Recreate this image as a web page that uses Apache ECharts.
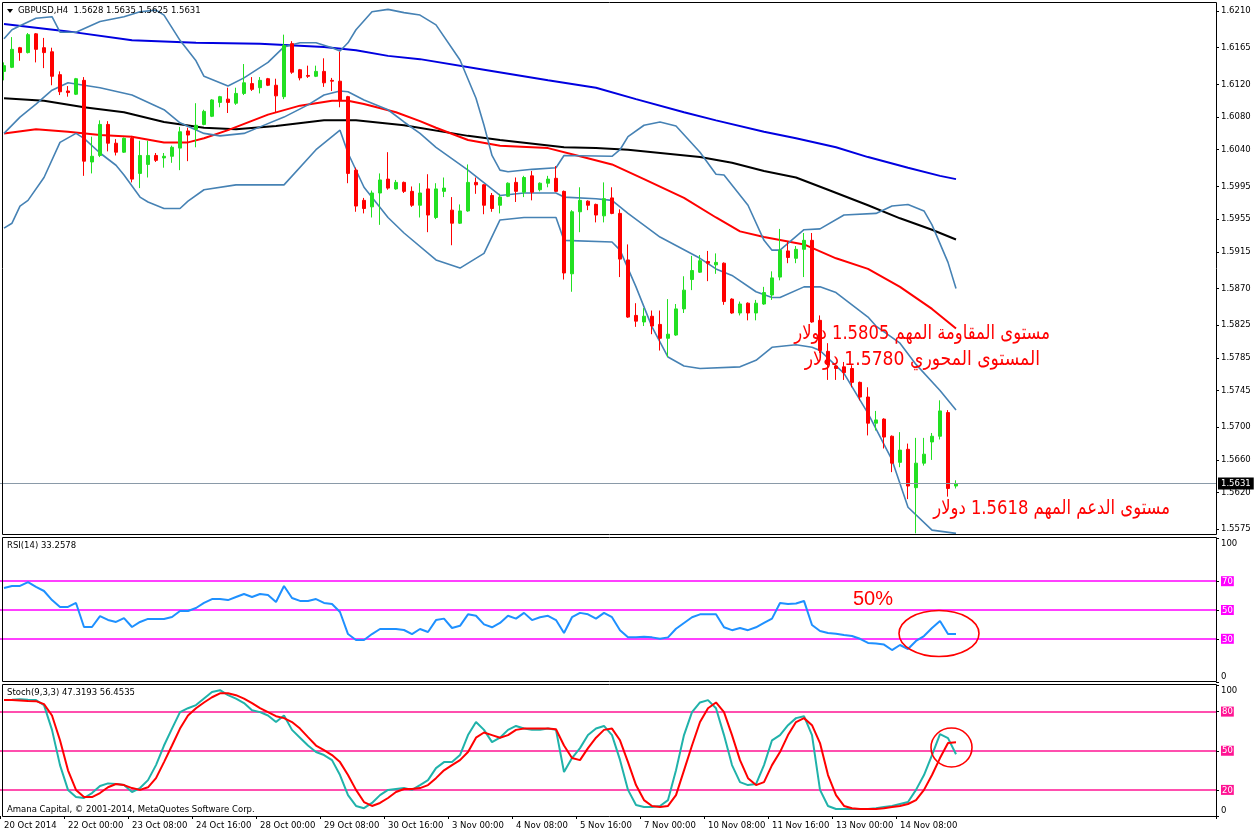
<!DOCTYPE html>
<html><head><meta charset="utf-8">
<script src="https://cdn.jsdelivr.net/npm/echarts@6/dist/echarts.min.js"></script>
<style>html,body{margin:0;padding:0;background:#fff}#c{width:1258px;height:835px}</style>
</head><body><div id="c"></div>
<script>
// ---------------- DATA ----------------
const symbolTitle = 'GBPUSD,H4';
const lastQuote = ['1.5628', '1.5635', '1.5625', '1.5631'];
const currentPrice = 1.5631;
const rsiTitle = 'RSI(14) 33.2578';
const stochTitle = 'Stoch(9,3,3) 47.3193 56.4535';
const footerText = 'Amana Capital, \u00A9 2001-2014, MetaQuotes Software Corp.';
const timeTicks = ['20 Oct 2014','22 Oct 00:00','23 Oct 08:00','24 Oct 16:00','28 Oct 00:00','29 Oct 08:00','30 Oct 16:00','3 Nov 00:00','4 Nov 08:00','5 Nov 16:00','7 Nov 00:00','10 Nov 08:00','11 Nov 16:00','13 Nov 00:00','14 Nov 08:00'];
const priceTicks = [1.6210,1.6165,1.6120,1.6080,1.6040,1.5995,1.5955,1.5915,1.5870,1.5825,1.5785,1.5745,1.5700,1.5660,1.5620,1.5575];
const rsiLevels = [70, 50, 30];
const stochLevels = [80, 50, 20];
const annotations = ['\u0645\u0633\u062A\u0648\u0649 \u0627\u0644\u0645\u0642\u0627\u0648\u0645\u0629 \u0627\u0644\u0645\u0647\u0645 1.5805 \u062F\u0648\u0644\u0627\u0631',
  '\u0627\u0644\u0645\u0633\u062A\u0648\u0649 \u0627\u0644\u0645\u062D\u0648\u0631\u064A 1.5780 \u062F\u0648\u0644\u0627\u0631',
  '\u0645\u0633\u062A\u0648\u0649 \u0627\u0644\u062F\u0639\u0645 \u0627\u0644\u0645\u0647\u0645 1.5618 \u062F\u0648\u0644\u0627\u0631',
  '50%'];

const opens = [1.6136,1.6141,1.6165,1.6159,1.6182,1.6165,1.6160,1.6132,1.6112,1.6108,
1.6125,1.6025,1.6033,1.6071,1.6048,1.6037,1.6054,1.6011,1.6022,1.6033,
1.6030,1.6032,1.6042,1.6063,1.6065,1.6071,1.6081,1.6098,1.6102,1.6097,
1.6109,1.6121,1.6116,1.6127,1.6119,1.6105,1.6170,1.6138,1.6131,1.6130,
1.6136,1.6125,1.6124,1.6105,1.6015,1.5978,1.5970,1.5987,1.6004,1.5992,
1.6000,1.5989,1.5972,1.5992,1.5957,1.5989,1.5966,1.5950,1.5965,1.6000,
1.5997,1.5984,1.5972,1.5983,1.6000,1.5988,1.6008,1.5991,1.5999,1.6005,
1.5989,1.5888,1.5964,1.5977,1.5973,1.5959,1.5981,1.5962,1.5905,1.5837,
1.5829,1.5836,1.5826,1.5809,1.5813,1.5845,1.5881,1.5890,1.5903,1.5899,
1.5901,1.5857,1.5840,1.5852,1.5840,1.5851,1.5862,1.5884,1.5916,1.5907,
1.5918,1.5929,1.5831,1.5793,1.5775,1.5774,1.5772,1.5755,1.5737,1.5705,
1.5710,1.5689,1.5657,1.5673,1.5626,1.5656,1.5682,1.5689,1.5718,1.5628];
const highs = [1.6147,1.6178,1.6166,1.6183,1.6183,1.6177,1.6165,1.6136,1.6118,1.6128,
1.6129,1.6056,1.6076,1.6075,1.6053,1.6055,1.6057,1.6051,1.6051,1.6036,
1.6036,1.6045,1.6068,1.6067,1.6097,1.6089,1.6102,1.6106,1.6116,1.6116,
1.6145,1.6129,1.6129,1.6128,1.6127,1.6181,1.6173,1.6139,1.6143,1.6143,
1.6152,1.6128,1.6160,1.6106,1.6018,1.5981,1.5990,1.6011,1.6037,1.6003,
1.6001,1.5995,1.5999,1.6010,1.5999,1.6006,1.5982,1.5973,1.6022,1.6006,
1.5998,1.5987,1.5986,1.6000,1.6006,1.6008,1.6014,1.6000,1.6008,1.6020,
1.5990,1.5966,1.5994,1.5978,1.5974,1.6000,1.5994,1.5967,1.5924,1.5852,
1.5846,1.5843,1.5843,1.5857,1.5851,1.5885,1.5910,1.5911,1.5916,1.5913,
1.5902,1.5858,1.5854,1.5853,1.5856,1.5872,1.5891,1.5943,1.5927,1.5922,
1.5938,1.5938,1.5837,1.5803,1.5776,1.5780,1.5776,1.5756,1.5749,1.5720,
1.5711,1.5690,1.5694,1.5680,1.5687,1.5687,1.5693,1.5733,1.5721,1.5635];
const lows = [1.6125,1.6140,1.6149,1.6158,1.6147,1.6140,1.6119,1.6107,1.6105,1.6107,
1.6008,1.6011,1.6031,1.6038,1.6033,1.6036,1.6000,1.5993,1.6006,1.6025,
1.6018,1.6024,1.6015,1.6026,1.6043,1.6070,1.6080,1.6092,1.6085,1.6095,
1.6107,1.6112,1.6109,1.6118,1.6086,1.6102,1.6133,1.6125,1.6128,1.6129,
1.6117,1.6112,1.6092,1.5999,1.5964,1.5962,1.5957,1.5948,1.5991,1.5991,
1.5987,1.5970,1.5957,1.5939,1.5955,1.5982,1.5923,1.5949,1.5964,1.5986,
1.5961,1.5964,1.5962,1.5982,1.5976,1.5982,1.5978,1.5989,1.5994,1.5988,
1.5881,1.5866,1.5939,1.5966,1.5951,1.5951,1.5961,1.5884,1.5834,1.5823,
1.5824,1.5814,1.5794,1.5786,1.5812,1.5840,1.5868,1.5889,1.5879,1.5888,
1.5850,1.5839,1.5837,1.5831,1.5831,1.5850,1.5856,1.5880,1.5901,1.5901,
1.5884,1.5828,1.5791,1.5758,1.5758,1.5758,1.5749,1.5733,1.5690,1.5696,
1.5674,1.5645,1.5651,1.5612,1.5570,1.5653,1.5660,1.5685,1.5615,1.5625];
const closes = [1.6143,1.6163,1.6159,1.6181,1.6163,1.6159,1.6130,1.6111,1.6110,1.6127,
1.6026,1.6032,1.6071,1.6048,1.6037,1.6054,1.6004,1.6033,1.6033,1.6027,
1.6032,1.6043,1.6062,1.6058,1.6070,1.6087,1.6101,1.6105,1.6098,1.6109,
1.6122,1.6114,1.6125,1.6119,1.6106,1.6168,1.6135,1.6128,1.6130,1.6136,
1.6122,1.6124,1.6101,1.6011,1.5971,1.5968,1.5987,1.6003,1.5993,1.6000,
1.5989,1.5972,1.5987,1.5960,1.5992,1.5993,1.5950,1.5965,1.6000,1.5997,
1.5972,1.5968,1.5982,1.5999,1.5989,1.6006,1.5988,1.5999,1.6004,1.5989,
1.5889,1.5964,1.5978,1.5972,1.5960,1.5980,1.5962,1.5906,1.5835,1.5830,
1.5836,1.5824,1.5809,1.5814,1.5845,1.5868,1.5892,1.5904,1.5901,1.5902,
1.5854,1.5840,1.5851,1.5840,1.5852,1.5865,1.5883,1.5917,1.5908,1.5918,
1.5929,1.5829,1.5794,1.5777,1.5772,1.5767,1.5755,1.5737,1.5705,1.5709,
1.5688,1.5656,1.5672,1.5628,1.5656,1.5667,1.5689,1.5720,1.5625,1.5631];

// moving averages / bands: [bar index, price] read at sampled bars
const maBlue = [[0,1.6194],[8,1.6185],[16,1.6174],[24,1.6171],[32,1.6170],[40,1.6166],[44,1.6162],[48,1.6155],[52,1.6151],[60,1.6138],[68,1.6125],[74,1.6116],[79,1.6102],[85,1.6086],[89,1.6076],[95,1.6062],[99,1.6054],[104,1.6043],[108,1.6031],[113,1.6018],[117,1.6008],[119,1.6004]];
const maBlack = [[0,1.6103],[5,1.6100],[10,1.6092],[15,1.6086],[20,1.6074],[25,1.6067],[29,1.6065],[34,1.6069],[40,1.6076],[44,1.6076],[50,1.6070],[58,1.6057],[62,1.6052],[70,1.6043],[74,1.6042],[78,1.6040],[87,1.6031],[91,1.6024],[95,1.6014],[99,1.6006],[103,1.5991],[108,1.5972],[112,1.5956],[116,1.5942],[119,1.5930]];
const maRed = [[0,1.6060],[4,1.6065],[8,1.6062],[12,1.6058],[16,1.6056],[20,1.6049],[23,1.6049],[25,1.6054],[28,1.6064],[33,1.6083],[37,1.6094],[41,1.6100],[43,1.6100],[45,1.6096],[49,1.6086],[52,1.6075],[54,1.6067],[58,1.6052],[62,1.6045],[68,1.6042],[72,1.6032],[76,1.6022],[80,1.6004],[85,1.5981],[89,1.5957],[92,1.5940],[95,1.5933],[100,1.5924],[104,1.5907],[108,1.5894],[112,1.5872],[116,1.5845],[119,1.5821]];
const bbUpper = [[0,1.6176],[1,1.6187],[2,1.6192],[4,1.6201],[6,1.6203],[7,1.6184],[9,1.6184],[12,1.6197],[15,1.6203],[17,1.6209],[19,1.6211],[20,1.6205],[22,1.6174],[24,1.6149],[25,1.6130],[28,1.6118],[30,1.6128],[33,1.6147],[35,1.6166],[37,1.6171],[39,1.6171],[41,1.6165],[42,1.6161],[43,1.6171],[44,1.6187],[46,1.6209],[48,1.6212],[50,1.6208],[52,1.6205],[54,1.6193],[57,1.6150],[59,1.6103],[60,1.6070],[61,1.6033],[62,1.6015],[63,1.6013],[66,1.6016],[69,1.6018],[70,1.6033],[76,1.6032],[77,1.6040],[78,1.6056],[80,1.6070],[82,1.6074],[84,1.6069],[87,1.6037],[89,1.6010],[90,1.6009],[93,1.5972],[95,1.5929],[96,1.5917],[97,1.5917],[100,1.5942],[102,1.5943],[105,1.5960],[109,1.5962],[111,1.5971],[113,1.5973],[115,1.5965],[116,1.5948],[118,1.5902],[119,1.5870]];
const bbMiddle = [[0,1.6060],[2,1.6080],[4,1.6096],[6,1.6113],[8,1.6122],[10,1.6119],[12,1.6116],[16,1.6107],[20,1.6089],[22,1.6073],[25,1.6060],[27,1.6057],[30,1.6060],[32,1.6068],[35,1.6080],[38,1.6095],[40,1.6107],[42,1.6112],[43,1.6111],[45,1.6101],[48,1.6089],[50,1.6074],[52,1.6060],[54,1.6043],[58,1.6015],[62,1.5984],[65,1.5987],[69,1.5987],[70,1.5982],[74,1.5980],[76,1.5978],[78,1.5962],[82,1.5933],[87,1.5907],[89,1.5894],[91,1.5886],[94,1.5866],[96,1.5859],[97,1.5859],[100,1.5872],[102,1.5872],[104,1.5865],[108,1.5835],[109,1.5824],[112,1.5803],[114,1.5777],[117,1.5745],[119,1.5721]];
const bbLower = [[0,1.5944],[1,1.5950],[2,1.5971],[3,1.5978],[5,1.6006],[7,1.6049],[9,1.6060],[10,1.6054],[12,1.6036],[14,1.6021],[15,1.6009],[17,1.5982],[18,1.5976],[20,1.5968],[22,1.5968],[23,1.5977],[25,1.5991],[29,1.5997],[35,1.5997],[39,1.6040],[42,1.6064],[43,1.6036],[45,1.5994],[48,1.5957],[50,1.5938],[54,1.5905],[57,1.5895],[60,1.5913],[62,1.5954],[65,1.5957],[69,1.5957],[70,1.5929],[76,1.5927],[77,1.5917],[79,1.5872],[81,1.5823],[83,1.5786],[85,1.5775],[87,1.5772],[92,1.5774],[94,1.5782],[96,1.5798],[99,1.5801],[101,1.5798],[102,1.5794],[105,1.5766],[108,1.5717],[111,1.5660],[113,1.5602],[116,1.5574],[119,1.5570]];

const rsiValues = [65.3,66.7,66.7,69.4,66.0,63.2,56.9,52.1,52.1,54.9,
38.2,38.2,45.8,43.1,41.7,44.4,38.2,41.7,43.8,43.8,
43.8,45.1,49.3,49.3,51.4,54.9,57.6,57.6,56.9,59.0,
61.1,59.0,61.1,60.4,55.6,66.7,58.3,56.3,56.3,57.6,
54.9,54.2,48.6,33.3,29.2,29.2,33.3,36.8,36.8,36.8,
36.1,33.3,36.8,34.7,43.0,44.0,37.5,39.0,47.0,46.0,
40.0,38.0,41.0,46.0,44.0,48.0,43.0,45.0,46.0,43.0,
34.0,45.0,48.0,47.0,44.0,48.0,45.0,36.0,31.0,31.0,
31.5,31.0,30.0,31.0,37.0,41.0,45.0,47.0,47.0,47.0,
38.0,36.0,37.5,36.0,38.0,41.0,44.0,54.9,54.2,54.5,
56.3,39.6,35.4,34.0,33.5,32.6,31.9,30.0,27.1,26.7,
26.0,22.2,25.7,22.9,28.5,31.9,37.5,42.4,33.3,33.26];
const stochK = [88.8,89,89.5,89,88.8,85,66,39,20,14.5,
13.8,17.6,23,25,24.5,23.7,18.4,21.4,27.5,39,
54,67,79.6,82.6,85,90,95,96.4,92.6,90,
86.5,81,79.6,77,72,77,66,60,54,49,
46.7,42.8,31.4,16,7.7,6,10,16,20,20.7,
21.4,20,23.7,27.5,36.7,41.3,41.3,46.7,62,72,
66,56.6,60,66,69,67,66,66,67,66,
33.7,44.4,52,62,67,69,62,43,20,8.4,
6.9,6.9,7.7,12.2,35,62,79.6,87,88.8,82.6,
62,39,26,23.7,24.5,39,58,62,69.6,75,
76.5,62,20,7.7,5.4,5.4,5.4,5.4,5.4,6,
6.9,7.7,9.2,10.7,20,31.4,46.7,62.7,59.7,47.32];
const stochD = [88.8,88.8,88.5,88.2,88,85.7,77,58,35,20,
14.5,14.5,17.6,22,24.5,23.7,21.4,20,22,29,
41.3,54,67,77,82.6,87,91,94,94,92.6,
90,86.5,82.6,79.6,76.5,75,72,67,60.4,54,
50.5,46.7,41.3,31.4,20,10.7,7.7,10,13.8,18.4,
20.7,20.7,21.4,23.7,29,35,39,42.8,49,60,
64,62,60,62,66,67,67,67,67,66.5,
54,44.4,42.8,52,60,66,67,58,41.3,23.7,
12.2,7.7,6.9,7.7,16,35,54,72,82.6,87,
79.6,62,42.8,29,23.7,26,39,49,62,72,
75,69.6,55.9,31.4,16,7.7,6,5.4,5.4,5.4,
6,6.9,7.7,9.2,12.2,20,31.4,44.4,55.9,56.45];

// ---------------- BUILD ----------------
const SLOTS = 152; // bars + empty right margin (chart shift)
const MONTHS = ['Jan','Feb','Mar','Apr','May','Jun','Jul','Aug','Sep','Oct','Nov','Dec'];
const categories = [];
{
  let t = Date.UTC(2014, 9, 20, 16);
  while (categories.length < opens.length) {
    const d = new Date(t); const wd = d.getUTCDay();
    if (wd !== 0 && wd !== 6) {
      const p = n => String(n).padStart(2, '0');
      categories.push(d.getUTCDate() + ' ' + MONTHS[d.getUTCMonth()] + ' ' + p(d.getUTCHours()) + ':' + p(d.getUTCMinutes()));
    }
    t += 4 * 3600e3;
  }
  while (categories.length < SLOTS) categories.push('');
}
const candleData = opens.map((o, i) => [o, closes[i], lows[i], highs[i]]);
const FONT = 'DejaVu Sans';
const tickEvery = 8;
const showTick = idx => idx % tickEvery === 0 && idx / tickEvery < timeTicks.length;

const gridL = 0, gridW = SLOTS * 8;
const grids = [
  {left: gridL, top: 2, width: gridW, height: 533},
  {left: gridL, top: 538, width: gridW, height: 144},
  {left: gridL, top: 685.5, width: gridW, height: 130.5}
];
function xAx(gi, show) {
  return {
    type: 'category', gridIndex: gi, data: categories, boundaryGap: true,
    axisLine: {show: false}, splitLine: {show: false},
    axisTick: {show: show, interval: (i) => showTick(i), length: 3, lineStyle: {color: '#000'}},
    axisLabel: {show: show, interval: (i) => showTick(i), formatter: (v, i) => timeTicks[i / tickEvery] || '',
      align: 'left', margin: 5, color: '#000', fontSize: 8.5, fontFamily: FONT}
  };
}
const levelRich = (bg) => ({
  lv: {backgroundColor: bg, color: '#fff', padding: [1, 1, 0, 1], fontSize: 8.5, fontFamily: FONT},
  top: {padding: [11, 0, 0, 0], color: '#000', fontSize: 8.5, fontFamily: FONT},
  bot: {padding: [0, 0, 11, 0], color: '#000', fontSize: 8.5, fontFamily: FONT}
});
function oscY(gi, levels, bg) {
  return {
    type: 'value', gridIndex: gi, position: 'right', min: 0, max: 100,
    axisLine: {show: false}, splitLine: {show: false},
    axisTick: {show: true, length: 3, customValues: [0].concat(levels.slice().reverse(), [100]), lineStyle: {color: '#000'}},
    axisLabel: {show: true, margin: 5, customValues: [0].concat(levels.slice().reverse(), [100]),
      formatter: v => v === 100 ? '{top|100}' : v === 0 ? '{bot|0}' : '{lv|' + v + '}',
      rich: levelRich(bg)}
  };
}
const arabicFont = '20px "DejaVu Sans"';

const option = {
  animation: false,
  backgroundColor: '#fff',
  grid: grids,
  xAxis: [xAx(0, false), xAx(1, false), xAx(2, true)],
  yAxis: [
    {type: 'value', gridIndex: 0, position: 'right', min: 1.5568, max: 1.6221,
      axisLine: {show: false}, splitLine: {show: false},
      axisTick: {show: true, length: 3, customValues: priceTicks, lineStyle: {color: '#000'}},
      axisLabel: {customValues: priceTicks, formatter: v => v.toFixed(4), margin: 5, color: '#000', fontSize: 8.5, fontFamily: FONT}},
    oscY(1, rsiLevels, '#FF00FF'),
    oscY(2, stochLevels, '#FF1493')
  ],
  series: [
    {type: 'line', name: 'MA blue', data: maBlue, xAxisIndex: 0, yAxisIndex: 0, showSymbol: false, lineStyle: {color: '#0000E0', width: 2}, z: 2,
      markLine: {silent: true, symbol: 'none', precision: 4,
        lineStyle: {color: '#8a9aa8', width: 1, type: 'solid'},
        label: {position: 'end', formatter: lastQuote[3], color: '#fff', backgroundColor: '#000', padding: [2, 3, 1, 3], fontSize: 8.5, fontFamily: FONT, distance: 2},
        data: [{yAxis: currentPrice}]}},
    {type: 'line', name: 'MA black', data: maBlack, xAxisIndex: 0, yAxisIndex: 0, showSymbol: false, lineStyle: {color: '#000000', width: 2}, z: 2},
    {type: 'line', name: 'MA red', data: maRed, xAxisIndex: 0, yAxisIndex: 0, showSymbol: false, lineStyle: {color: '#FF0000', width: 2}, z: 2},
    {type: 'line', name: 'BB up', data: bbUpper, xAxisIndex: 0, yAxisIndex: 0, showSymbol: false, lineStyle: {color: '#4682B4', width: 1.6}, z: 2},
    {type: 'line', name: 'BB mid', data: bbMiddle, xAxisIndex: 0, yAxisIndex: 0, showSymbol: false, lineStyle: {color: '#4682B4', width: 1.6}, z: 2},
    {type: 'line', name: 'BB low', data: bbLower, xAxisIndex: 0, yAxisIndex: 0, showSymbol: false, lineStyle: {color: '#4682B4', width: 1.6}, z: 2},
    {type: 'candlestick', data: candleData, xAxisIndex: 0, yAxisIndex: 0, barWidth: 4, z: 3,
      itemStyle: {color: '#22E022', color0: '#FF0000', borderColor: '#22E022', borderColor0: '#FF0000', borderWidth: 1}},
    {type: 'line', data: rsiValues, xAxisIndex: 1, yAxisIndex: 1, showSymbol: false, lineStyle: {color: '#1E90FF', width: 2}, z: 3,
      markLine: {silent: true, symbol: 'none', label: {show: false}, lineStyle: {color: '#FF00FF', width: 1.5, type: 'solid'}, z: 1,
        data: rsiLevels.map(v => ({yAxis: v}))}},
    {type: 'line', data: stochK, xAxisIndex: 2, yAxisIndex: 2, showSymbol: false, lineStyle: {color: '#20B2AA', width: 2}, z: 3,
      markLine: {silent: true, symbol: 'none', label: {show: false}, lineStyle: {color: '#FF1493', width: 1.5, type: 'solid'}, z: 1,
        data: stochLevels.map(v => ({yAxis: v}))}},
    {type: 'line', data: stochD, xAxisIndex: 2, yAxisIndex: 2, showSymbol: false, lineStyle: {color: '#FF0000', width: 2}, z: 4}
  ],
  graphic: [
    {type: 'rect', shape: {x: 2.5, y: 2.5, width: 1214, height: 532}, style: {fill: 'none', stroke: '#000', lineWidth: 1}, silent: true, z: 10},
    {type: 'rect', shape: {x: 2.5, y: 537.5, width: 1214, height: 144}, style: {fill: 'none', stroke: '#000', lineWidth: 1}, silent: true, z: 10},
    {type: 'rect', shape: {x: 2.5, y: 684.5, width: 1214, height: 132}, style: {fill: 'none', stroke: '#000', lineWidth: 1}, silent: true, z: 10},
    {type: 'polygon', shape: {points: [[7, 9], [13, 9], [10, 13]]}, style: {fill: '#000'}, silent: true, z: 10},
    {type: 'text', x: 18, y: 11, style: {text: symbolTitle + '  ' + lastQuote.join(' '), fill: '#000', font: '8.5px "DejaVu Sans"', verticalAlign: 'middle'}, z: 10},
    {type: 'text', x: 7, y: 546, style: {text: rsiTitle, fill: '#000', font: '8.5px "DejaVu Sans"', verticalAlign: 'middle'}, z: 10},
    {type: 'text', x: 7, y: 693, style: {text: stochTitle, fill: '#000', font: '8.5px "DejaVu Sans"', verticalAlign: 'middle'}, z: 10},
    {type: 'text', x: 7, y: 810, style: {text: footerText, fill: '#000', font: '8.5px "DejaVu Sans"', verticalAlign: 'middle'}, z: 10},
    {type: 'text', x: 1050, y: 334, scaleX: 0.82, style: {text: annotations[0], fill: '#FF0000', font: arabicFont, align: 'right', verticalAlign: 'middle'}, z: 11},
    {type: 'text', x: 1040, y: 360, scaleX: 0.86, style: {text: annotations[1], fill: '#FF0000', font: arabicFont, align: 'right', verticalAlign: 'middle'}, z: 11},
    {type: 'text', x: 1170, y: 509, scaleX: 0.82, style: {text: annotations[2], fill: '#FF0000', font: arabicFont, align: 'right', verticalAlign: 'middle'}, z: 11},
    {type: 'text', x: 853, y: 599, style: {text: annotations[3], fill: '#FF0000', font: '20px "Liberation Sans"', verticalAlign: 'middle'}, z: 11},
    {type: 'ellipse', shape: {cx: 939, cy: 633.5, rx: 40, ry: 23}, style: {fill: 'none', stroke: '#FF0000', lineWidth: 1.6}, silent: true, z: 11},
    {type: 'ellipse', shape: {cx: 951.5, cy: 747.5, rx: 20.5, ry: 19.5}, style: {fill: 'none', stroke: '#FF0000', lineWidth: 1.6}, silent: true, z: 11}
  ]
};
const chart = echarts.init(document.getElementById('c'));
chart.setOption(option);
</script>
</body></html>
